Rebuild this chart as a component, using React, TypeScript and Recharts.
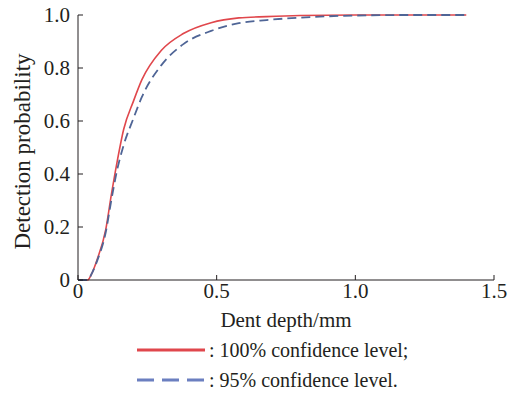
import { LineChart, Line, XAxis, YAxis, Legend } from 'recharts';

const depth = [0, 0.035, 0.05, 0.07, 0.1, 0.12, 0.14, 0.165, 0.2, 0.23, 0.3, 0.38, 0.48, 0.58, 0.68, 0.8, 1.0, 1.2, 1.4];
const pod100 = [0, 0, 0.025, 0.08, 0.19, 0.32, 0.44, 0.57, 0.675, 0.755, 0.866, 0.93, 0.971, 0.989, 0.994, 0.998, 1, 1, 1];
const pod95 = [0, 0, 0.025, 0.075, 0.18, 0.3, 0.41, 0.51, 0.61, 0.69, 0.81, 0.89, 0.94, 0.969, 0.981, 0.99, 0.998, 1, 1];
const xTicks = [0, 0.5, 1.0, 1.5];
const yTicks = [0, 0.2, 0.4, 0.6, 0.8, 1.0];

const RED = '#e0474c';
const BLUE = '#4f6596';
const INK = '#231f20';
const FONT = 'Liberation Serif, Times New Roman, DejaVu Serif, serif';

const data = depth.map((d, i) => ({ depth: d, c100: pod100[i], c95: pod95[i] }));

const fmt = (v: number) => (v === 0 ? '0' : v.toFixed(1));

function LegendBox() {
  const row = (dash: boolean, color: string, text: string) => (
    <div style={{ height: 30, display: 'flex', alignItems: 'center', paddingLeft: 137 }}>
      <svg width={70} height={10}>
        <line x1={0} y1={5} x2={68} y2={5} stroke={color} strokeWidth={3} strokeDasharray={dash ? '17 8' : undefined} />
      </svg>
      <span style={{ fontFamily: FONT, fontSize: 20, color: INK, marginLeft: 2 }}>{text}</span>
    </div>
  );
  return (
    <div style={{ height: 65, paddingTop: 5, boxSizing: 'border-box', textAlign: 'left' }}>
      {row(false, RED, ': 100% confidence level;')}
      {row(true, '#6b7fc0', ': 95% confidence level.')}
    </div>
  );
}

export default function App() {
  return (
    <div style={{ position: 'absolute', left: 0, top: 0, width: 515, height: 395, background: '#fff', fontFamily: FONT }}>
      <LineChart width={515} height={395} data={data} margin={{ top: 15, right: 21, bottom: 0, left: 0 }}>
        <XAxis
          dataKey="depth"
          type="number"
          domain={[0, 1.5]}
          ticks={xTicks}
          tickFormatter={fmt}
          height={50}
          stroke={INK}
          tickSize={-5}
          tickMargin={8}
          tick={{ fill: INK, fontSize: 21, fontFamily: FONT }}
          label={({ viewBox }: any) => (
            <text x={viewBox.x + viewBox.width / 2} y={viewBox.y + 47} textAnchor="middle" fill={INK} fontSize={21} fontFamily={FONT}>
              Dent depth/mm
            </text>
          )}
        />
        <YAxis
          type="number"
          domain={[0, 1]}
          ticks={yTicks}
          tickFormatter={fmt}
          width={78}
          stroke={INK}
          tickSize={-5}
          tickMargin={13}
          tick={{ fill: INK, fontSize: 21, fontFamily: FONT }}
          label={({ viewBox }: any) => (
            <text
              x={22}
              y={viewBox.y + viewBox.height / 2 + 4}
              transform={`rotate(-90, 22, ${viewBox.y + viewBox.height / 2 + 4})`}
              textAnchor="middle"
              dominantBaseline="central"
              fill={INK}
              fontSize={23}
              fontFamily={FONT}
            >
              Detection probability
            </text>
          )}
        />
        <Legend verticalAlign="bottom" content={() => <LegendBox />} />
        <Line type="monotone" dataKey="c100" stroke={RED} strokeWidth={1.6} dot={false} isAnimationActive={false} />
        <Line type="monotone" dataKey="c95" stroke={BLUE} strokeWidth={1.8} strokeDasharray="9 5" dot={false} isAnimationActive={false} />
      </LineChart>
    </div>
  );
}
